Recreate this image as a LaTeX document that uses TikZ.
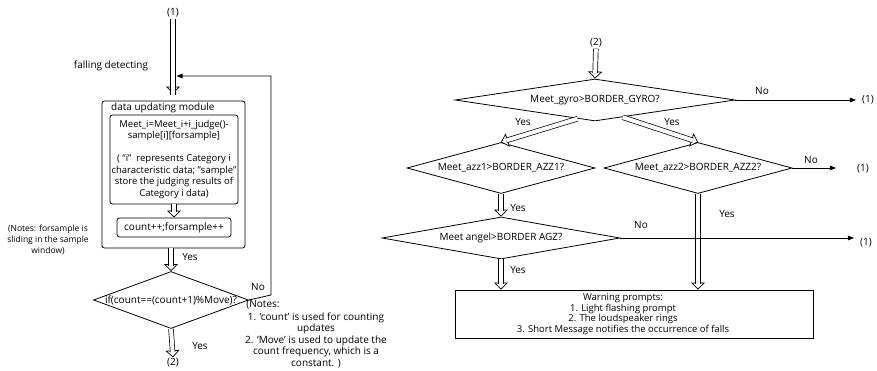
\documentclass[tikz,border=0pt]{standalone}
\usepackage{fontspec}
\setmainfont{Open Sans}
\usetikzlibrary{arrows.meta, positioning, shapes, calc}

\begin{document}
\begin{tikzpicture}[
    x=1pt, y=-1pt,
    every node/.style={font=\fontsize{10}{11.5}\selectfont, align=center, inner sep=1pt},
    box/.style={draw, line width=0.8pt, rounded corners=2.5pt},
    dmd/.style={draw, line width=0.8pt, diamond, inner sep=0pt},
    hollow/.style={line width=0.7pt, -{Triangle[open, length=7pt, width=14pt, fill=white]},
        postaction={draw, -, double, double distance=4pt, shorten >=5.5pt}},
    line/.style={draw, line width=0.8pt, -{Triangle[length=6pt, width=4.5pt]}}
]
\useasboundingbox (0,0) rectangle (877,371);
% left part: falling detecting
\node (in1) at (173,13) {(1)};
\node (fall) at (111,66) {falling detecting};
\node[box, minimum width=143, minimum height=147] (module) at (173.5,174.5) {};
\node[anchor=west] (modname) at (110,108) {data updating module};
\node[box, minimum width=128, minimum height=89, font=\fontsize{9.5}{11.5}\selectfont] (judge) at (174,159.5)
    {Meet\_i=Meet\_i+i\_judge()-\\sample[i][forsample]\\[11.5pt]( “i”\ \ represents Category i\\characteristic data; "sample"\\store the judging results of\\Category i data)};
\node[box, minimum width=114, minimum height=19] (cnt) at (174,227.5) {count++;forsample++};
\node[font=\fontsize{8.5}{11}\selectfont] (note1) at (48,240) {(Notes: forsample is\\sliding in the sample\\window)};
\node[dmd, minimum width=155, minimum height=57, label=center:{if(count==(count+1)\%Move)?}] (dcount) at (171,300) {};
\node (yes1) at (190,257) {Yes};
\node (no1) at (258,287) {No};
\node (notehead) at (263,305) {(Notes:};
\node (note2) at (316,340) {1. 'count' is used for counting\\updates\\2. 'Move' is used to update the\\count frequency, which is a\\constant. )};
\node (yes2) at (200,346) {Yes};
\node (out2) at (173,363) {(2)};
\coordinate (fbin) at (176.5,76);

\draw[hollow, shorten >=7pt] (in1) -- (module.north -| in1);
\draw[hollow] (judge.south) -- (cnt.north);
\draw[hollow] (module.south -| dcount.north) -- (dcount.north);
\draw[hollow] (dcount.south) -- (out2.north);
\draw[line] (dcount.east) -- ++(22,-5) |- (fbin);

% right part: judging and warning
\node (in2) at (596,43) {(2)};
\node[dmd, minimum width=280, minimum height=42, label=center:{Meet\_gyro>BORDER\_GYRO?}] (dgyro) at (595,100) {};
\node[dmd, minimum width=188, minimum height=51, label=center:{Meet\_azz1>BORDER\_AZZ1?}] (dazz1) at (501,168) {};
\node[dmd, minimum width=188, minimum height=51, label=center:{Meet\_azz2>BORDER\_AZZ2?}] (dazz2) at (698,168) {};
\node[dmd, minimum width=238, minimum height=42, label=center:{Meet angel>BORDER AGZ?}] (dangel) at (501,238) {};
\node[draw, line width=0.8pt, minimum width=358, minimum height=48,
      label={[xshift=-11pt, font=\fontsize{9.5}{10.5}\selectfont]center:{Warning prompts:\\1. Light flashing prompt\\2. The loudspeaker rings\\3. Short Message notifies the occurrence of falls}}] (warn) at (634,314) {};
\node (r1) at (868,100) {(1)};
\node (r2) at (863,169) {(1)};
\node (r3) at (866,243) {(1)};
\node (no2) at (762,91) {No};
\node (no3) at (811,160) {No};
\node (no4) at (641,225) {No};
\node (yes3) at (523,122) {Yes};
\node (yes4) at (672,122) {Yes};
\node (yes5) at (518,208) {Yes};
\node (yes6) at (727,214) {Yes};
\node (yes7) at (518,270) {Yes};

\draw[hollow] (in2) -- (dgyro.north);
\draw[hollow] (dgyro.-133) -- (dazz1.north);
\draw[hollow] (dgyro.-32) -- (dazz2.north);
\draw[hollow] (dazz1.south) -- (dangel.north);
\draw[hollow] (dangel.south) -- (dangel.south |- warn.north);
\draw[hollow] (dazz2.south) -- (dazz2.south |- warn.north);
\draw[line, shorten >=5pt] (dgyro.east) -- (r1.west |- dgyro.east);
\draw[line, shorten >=20pt] (dazz2.east) -- (r2.west |- dazz2.east);
\draw[line, shorten >=5pt] (dangel.east) -- (r3.west |- dangel.east);
\end{tikzpicture}
\end{document}
